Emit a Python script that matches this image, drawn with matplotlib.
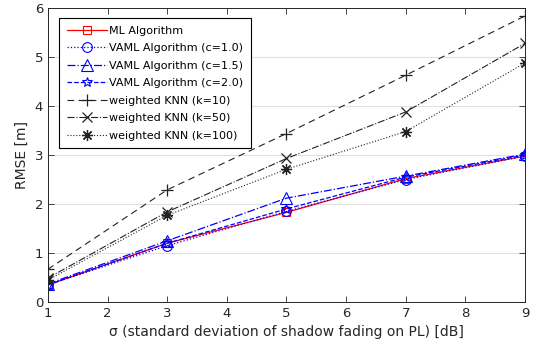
import numpy as np
import matplotlib
matplotlib.use('Agg')
import matplotlib.pyplot as plt

sigma = [1, 3, 5, 7, 9]
ml = [0.35, 1.20, 1.83, 2.52, 2.98]
vaml_10 = [0.35, 1.15, 1.85, 2.50, 2.98]
vaml_15 = [0.37, 1.25, 2.12, 2.57, 3.02]
vaml_20 = [0.35, 1.20, 1.90, 2.55, 3.00]
knn_10 = [0.67, 2.29, 3.44, 4.63, 5.84]
knn_50 = [0.49, 1.84, 2.93, 3.88, 5.28]
knn_100 = [0.45, 1.77, 2.71, 3.48, 4.88]

labels = ['ML Algorithm', 'VAML Algorithm (c=1.0)', 'VAML Algorithm (c=1.5)',
          'VAML Algorithm (c=2.0)', 'weighted KNN (k=10)', 'weighted KNN (k=50)',
          'weighted KNN (k=100)']

fig = plt.figure(figsize=(5.39, 3.52), dpi=100)
ax = fig.add_axes([0.089, 0.142, 0.885, 0.835])

mk = dict(mew=0.8, mfc='none')
ax.plot(sigma, ml, color='red', ls='-', marker='s', ms=6, lw=0.9, label=labels[0], **mk)
ax.plot(sigma, vaml_10, color='blue', ls=':', marker='o', ms=7, lw=0.9, label=labels[1], **mk)
ax.plot(sigma, vaml_15, color='blue', ls='-.', marker='^', ms=8, lw=0.9, label=labels[2], **mk)
ax.plot(sigma, vaml_20, color='blue', ls='--', marker='*', ms=7, lw=0.9, label=labels[3], **mk)
ax.plot(sigma, knn_10, color='#222222', ls=(0, (6, 4)), marker='+', ms=9, mew=0.9, lw=0.8, label=labels[4])
ax.plot(sigma, knn_50, color='#222222', ls='-.', marker='x', ms=6.5, mew=0.9, lw=0.8, label=labels[5])
ax.plot(sigma, knn_100, color='#222222', ls=':', marker=(8, 2, 0), ms=8, mew=0.9, lw=0.8, label=labels[6])

ax.set_xlim(1, 9)
ax.set_ylim(0, 6)
ax.set_xticks(range(1, 10))
ax.set_yticks(range(0, 7))
ax.yaxis.grid(True, color='#e0e0e0', lw=0.8)
ax.set_axisbelow(True)
ax.tick_params(direction='in', top=True, right=True, labelsize=9.5,
               colors='#262626', length=4, width=0.6)
for s in ax.spines.values():
    s.set_color('#262626')
    s.set_linewidth(0.7)

ax.set_xlabel('σ (standard deviation of shadow fading on PL) [dB]', fontsize=10, color='#262626')
ax.set_ylabel('RMSE [m]', fontsize=10, color='#262626')

leg = ax.legend(loc='upper left', bbox_to_anchor=(0.012, 0.985), fontsize=8,
                frameon=True, fancybox=False, edgecolor='black', framealpha=1,
                handlelength=3.6, labelspacing=0.67, borderpad=0.7, handletextpad=0.15)
leg.get_frame().set_linewidth(0.8)

fig.savefig('out.png', dpi=100)
